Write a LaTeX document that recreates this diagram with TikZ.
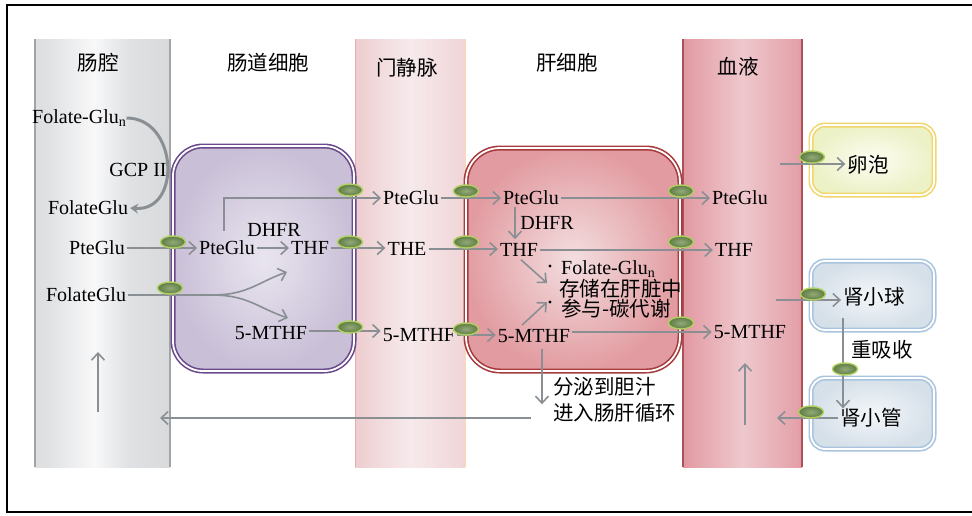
\documentclass[tikz,border=0pt]{standalone}
\usepackage{fontspec}
\setmainfont{Liberation Serif}
\newfontfamily\cjk{Noto Sans CJK SC}
\usetikzlibrary{arrows.meta,shapes.geometric}
\definecolor{agray}{HTML}{8A8F94}
\definecolor{tpin}{HTML}{93AA78}
\definecolor{tpout}{HTML}{5E7B44}
\definecolor{tpdraw}{HTML}{B0D05E}
\definecolor{lumA}{HTML}{D0D2D5}
\definecolor{lumB}{HTML}{DFE1E3}
\definecolor{lumC}{HTML}{F8F8F9}
\definecolor{lumD}{HTML}{CBCDD0}
\definecolor{porA}{HTML}{E4ADB0}
\definecolor{porB}{HTML}{F1D9DB}
\definecolor{porC}{HTML}{F6EAEC}
\definecolor{porD}{HTML}{E9BFBC}
\definecolor{bloA}{HTML}{CC5F69}
\definecolor{bloB}{HTML}{E5A3AB}
\definecolor{bloC}{HTML}{EEC8CD}
\definecolor{bloD}{HTML}{D9586E}
\definecolor{purB}{HTML}{6A4A8C}
\definecolor{purIn}{HTML}{E9E5EF}
\definecolor{purOut}{HTML}{C9BFD7}
\definecolor{livB}{HTML}{A73A3D}
\definecolor{livIn}{HTML}{F3DEE0}
\definecolor{livOut}{HTML}{E29CA1}
\definecolor{ovB}{HTML}{F1D66C}
\definecolor{ovIn}{HTML}{FCFDF2}
\definecolor{ovOut}{HTML}{EDF1C6}
\definecolor{kidB}{HTML}{A9C4DE}
\definecolor{kidIn}{HTML}{F3F6F9}
\definecolor{kidOut}{HTML}{D6E0E9}
\pgfdeclarehorizontalshading{lumenshade}{100bp}{color(0bp)=(lumA); color(30bp)=(lumB); color(47bp)=(lumC); color(60bp)=(lumB); color(100bp)=(lumD)}
\pgfdeclarehorizontalshading{portalshade}{100bp}{color(0bp)=(porA); color(35bp)=(porB); color(50bp)=(porC); color(70bp)=(porB); color(100bp)=(porD)}
\pgfdeclarehorizontalshading{bloodshade}{100bp}{color(0bp)=(bloA); color(30bp)=(bloB); color(50bp)=(bloC); color(72bp)=(bloB); color(100bp)=(bloD)}
\tikzset{
  lat/.style={font=\fontsize{20}{22}\selectfont, inner sep=2pt, text=black},
  zh/.style={font=\cjk\fontsize{20.5}{23}\selectfont, inner sep=2pt, text=black},
  ar/.style={draw=agray, line width=1.6pt, -{Straight Barb[length=7pt,width=13pt,line width=1.6pt]}},
  ln/.style={draw=agray, line width=1.6pt},
  tp/.style={ellipse, draw=tpdraw, line width=1.4pt, inner color=tpin, outer color=tpout, minimum width=25pt, minimum height=12pt, inner sep=0pt},
  dbl/.style={line width=1.6pt, double=white, double distance=1.8pt},
  bul/.style={circle, fill=black, inner sep=0pt, minimum size=3.2pt},
}
\begin{document}
\begin{tikzpicture}[x=1pt,y=-1pt]
\useasboundingbox (0,0) rectangle (972,515);
\fill[white] (0,0) rectangle (972,515);
% frame (right side cut off)
\draw[black, line width=2pt] (972,5) -- (7,5) -- (7,512) -- (972,512);
% columns
\shade[shading=lumenshade] (35,39) rectangle (170,467);
\draw[color=lumD!80!black, line width=1.2pt] (35,39) -- (35,467) (170,39) -- (170,467);
\shade[shading=portalshade] (355,39) rectangle (465,467);
\draw[color=porA, line width=1pt] (355,39) -- (355,467);
\draw[color=orange!30, line width=1pt] (465,39) -- (465,467);
\shade[shading=bloodshade] (683,39) rectangle (802,467);
\draw[color=bloA!85!black, line width=1.2pt] (683,39) -- (683,467) (802,39) -- (802,467);
% cells
\shade[inner color=purIn, outer color=purOut, rounded corners=30pt] (173,146) rectangle (354,371);
\draw[dbl, draw=purB, rounded corners=30pt] (173,146) rectangle (354,371);
\shade[inner color=livIn, outer color=livOut, rounded corners=34pt] (466,148) rectangle (680,371);
\draw[dbl, draw=livB, rounded corners=34pt] (466,148) rectangle (680,371);
\shade[inner color=ovIn, outer color=ovOut, rounded corners=14pt] (811,125) rectangle (934,195);
\draw[dbl, draw=ovB, rounded corners=14pt] (811,125) rectangle (934,195);
\shade[inner color=kidIn, outer color=kidOut, rounded corners=14pt] (811,261) rectangle (934,330);
\draw[dbl, draw=kidB, rounded corners=14pt] (811,261) rectangle (934,330);
\shade[inner color=kidIn, outer color=kidOut, rounded corners=14pt] (811,378) rectangle (934,449);
\draw[dbl, draw=kidB, rounded corners=14pt] (811,378) rectangle (934,449);
% titles
\node[zh] (tLumen) at (98,63) {肠腔};
\node[zh] (tIcell) at (268,63) {肠道细胞};
\node[zh] (tPortal) at (407,68) {门静脉};
\node[zh] (tLiver) at (567,63) {肝细胞};
\node[zh] (tBlood) at (738,67) {血液};
% lumen texts
\node[lat, anchor=west, inner sep=0pt] (fgn) at (32,118) {Folate-Glu\textsubscript{n}};
\node[lat] (gcp) at (138,170) {GCP II};
\node[lat] (fg1) at (88,208) {FolateGlu};
\node[lat] (lpte) at (97,248) {PteGlu};
\node[lat] (fg2) at (86,295) {FolateGlu};
% intestinal cell
\node[lat] (cpte) at (227,248) {PteGlu};
\node[lat] (cdhfr) at (274,230) {DHFR};
\node[lat] (cthf) at (310,248) {THF};
\node[lat] (cm) at (271,333) {5-MTHF};
% portal
\node[lat] (ppte) at (411,198) {PteGlu};
\node[lat] (pthe) at (407,249) {THE};
\node[lat] (pm) at (419,335) {5-MTHF};
% liver
\node[lat] (hpte) at (531,198) {PteGlu};
\node[lat] (hdhfr) at (547,223) {DHFR};
\node[lat] (hthf) at (519,250) {THF};
\node[lat] (hm) at (534,336) {5-MTHF};
\node[bul] (d1) at (550,266) {};
\node[lat, anchor=west, inner sep=0pt] (b1) at (561,269) {Folate-Glu\textsubscript{n}};
\node[zh, anchor=west, inner sep=0pt] (b2) at (559,289) {存储在肝脏中};
\node[bul] (d3) at (550,302) {};
\node[zh, anchor=west, inner sep=0pt] (b3) at (561,309) {参与-碳代谢};
\node[zh, anchor=west] (bile1) at (551,387) {分泌到胆汁};
\node[zh, anchor=west] (bile2) at (551,413) {进入肠肝循环};
% blood
\node[lat] (bpte) at (740,198) {PteGlu};
\node[lat] (bthf) at (734,250) {THF};
\node[lat] (bm) at (750,332) {5-MTHF};
% organs
\node[zh] (ovary) at (868,165) {卵泡};
\node[zh] (glom) at (874,297) {肾小球};
\node[zh] (reab) at (882,350) {重吸收};
\node[zh] (tub) at (871,418) {肾小管};
% coordinates
\coordinate (fork) at (212,295);
\coordinate (forkup) at (287,272);
\coordinate (forkdn) at (288,318);
\coordinate (lumA1) at (98,412);
\coordinate (lumA2) at (98,352);
\coordinate (bloA1) at (745,425);
\coordinate (bloA2) at (745,363);
\coordinate (retEnd) at (160,418);
\coordinate (ovs) at (780,164);
\coordinate (gls) at (776,300);
\coordinate (tbe) at (777,418);
\coordinate (dx) at (515,0);
\coordinate (bx) at (542,0);
\coordinate (rx) at (843,0);
\coordinate (cx) at (224,0);
% connectors
\draw[draw=agray, line width=3pt, -{Stealth[length=8pt,width=10pt]}] (fgn.east) .. controls (178,118) and (182,212) .. (fg1.east);
\draw[ar] (lpte.east) -- (cpte.west);
\draw[ar] (cpte.east) -- (cthf.west);
\draw[ar] ([yshift=8pt]cpte.north -| cx) |- (ppte.west);
\draw[ar] (cthf.east) -- (cthf.east -| pthe.west);
\draw[ln, line width=2.4pt] (fg2.east) -- (fork);
\draw[ar] (fork) .. controls (248,295) and (258,282) .. (forkup);
\draw[ar] (fork) .. controls (248,295) and (258,308) .. (forkdn);
\draw[ar] ([yshift=2pt]cm.east) -- ([yshift=2pt]cm.east -| pm.west);
\draw[ar] (ppte.east) -- (ppte.east -| hpte.west);
\draw[ar] (pthe.east) -- (pthe.east -| hthf.west);
\draw[ar] (pm.east) -- (pm.east -| hm.west);
\draw[ar] (hpte.south -| dx) -- ([yshift=2pt]hthf.north -| dx);
\draw[ar] (hpte.east) -- (hpte.east -| bpte.west);
\draw[ar] (hthf.east) -- (hthf.east -| bthf.west);
\draw[ar] ([yshift=4pt]hm.east) -- ([yshift=4pt]hm.east -| bm.west);
\draw[ar] ([xshift=2pt,yshift=-1pt]hthf.south) -- ([xshift=-3pt,yshift=-17pt]d1.center);
\draw[ar] ([xshift=-12pt,yshift=2pt]hm.north) -- ([xshift=-3pt]d3.center);
\draw[ar] ([yshift=-4pt]hm.south -| bx) -- ([yshift=-3pt]bile2.north west -| bx);
\draw[ar] ([xshift=-20pt]bile2.west |- retEnd) -- (retEnd);
\draw[ar] (lumA1) -- (lumA2);
\draw[ar] (bloA1) -- (bloA2);
\draw[ar] (ovs) -- (ovs -| ovary.west);
\draw[ar] (gls) -- (gls -| glom.west);
\draw[ar] ([yshift=-9pt]glom.south -| rx) -- ([yshift=-2pt]tub.north -| rx);
\draw[ar] (tub.west) -- (tbe);
% transporters
\node[tp] (t1) at (173,242) {};
\node[tp] (t2) at (170,288) {};
\node[tp] (t3) at (350,190) {};
\node[tp] (t4) at (350,242) {};
\node[tp] (t5) at (350,327) {};
\node[tp] (t6) at (466,191) {};
\node[tp] (t7) at (466,242) {};
\node[tp] (t8) at (466,329) {};
\node[tp] (t9) at (681,191) {};
\node[tp] (t10) at (681,242) {};
\node[tp] (t11) at (681,323) {};
\node[tp] (t12) at (812,157) {};
\node[tp] (t13) at (813,294) {};
\node[tp] (t14) at (845,369) {};
\node[tp] (t15) at (811,412) {};
\end{tikzpicture}
\end{document}
